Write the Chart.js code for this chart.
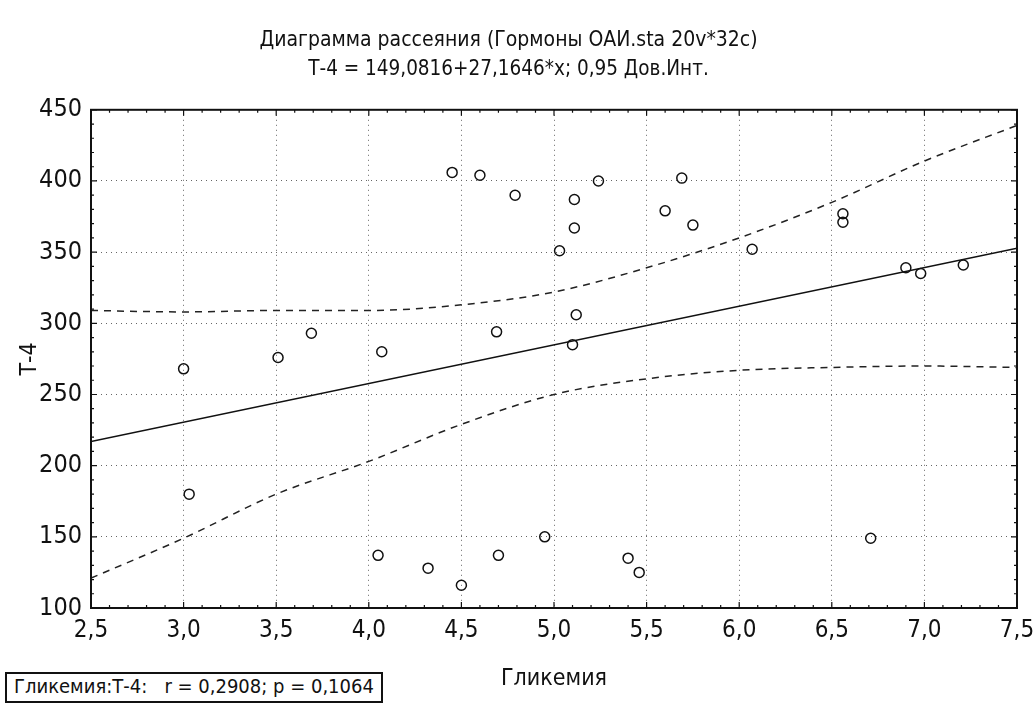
<!DOCTYPE html>
<html>
<head>
<meta charset="utf-8">
<script src="https://cdn.jsdelivr.net/npm/chart.js@4.4.1/dist/chart.umd.min.js"></script>
<style>
	body { margin: 0; background: white; }
	#wrap { position: relative; width: 1033px; height: 703px; }
	#stats {
		position: absolute; left: 5px; top: 672px;
		border: 2px solid #111; padding: 0 7px; height: 27px; line-height: 27px;
		font: 20px 'Liberation Sans Narrow', 'DejaVu Sans Condensed', sans-serif;
		color: #111; white-space: pre; background: white;
	}
</style>
</head>
<body>
<div id="wrap">
	<canvas id="myChart" width="1033" height="703"></canvas>
	<div id="stats">Гликемия:Т-4:   r = 0,2908; p = 0,1064</div>
</div>
<script>
const fontFamily = "'Liberation Sans Narrow', 'DejaVu Sans Condensed', sans-serif"
const inkColor = '#111'
const gridColor = '#666'

// Гликемия (x) / Т-4 (y), 32 случая
const glycemia = [3.00, 3.03, 3.51, 3.69, 4.07, 4.05, 4.32, 4.45, 4.50, 4.60, 4.70, 4.69, 4.79, 4.95, 5.03, 5.11,
	5.11, 5.12, 5.10, 5.24, 5.40, 5.46, 5.60, 5.69, 5.75, 6.07, 6.56, 6.56, 6.71, 6.90, 6.98, 7.21]
const t4 = [268, 180, 276, 293, 280, 137, 128, 406, 116, 404, 137, 294, 390, 150, 351, 367,
	387, 306, 285, 400, 135, 125, 379, 402, 369, 352, 377, 371, 149, 339, 335, 341]

// линия регрессии и 0,95 дов. интервал
const fitX = [2.5, 7.5]
const fitY = [217.0, 352.8]
const bandX = [2.5, 3.0, 3.5, 4.0, 4.5, 5.0, 5.5, 6.0, 6.5, 7.0, 7.5]
const upperY = [309, 308, 309, 309, 313, 322, 339, 360, 385, 414, 439]
const lowerY = [121, 149, 180, 203, 229, 250, 261, 267, 269, 270, 269]

const xTicks = [2.5, 3.0, 3.5, 4.0, 4.5, 5.0, 5.5, 6.0, 6.5, 7.0, 7.5]
const yTicks = [100, 150, 200, 250, 300, 350, 400, 450]

const toPoints = (xs, ys) => xs.map((x, i) => ({ x: x, y: ys[i] }))

/* рамка и мелкие штрихи внутри */
const framePlugin = {
	id: 'frame',
	afterDraw(chart) {
		const { ctx, chartArea: a, scales } = chart
		ctx.save()
		ctx.strokeStyle = inkColor
		ctx.lineWidth = 2
		ctx.strokeRect(a.left, a.top, a.right - a.left, a.bottom - a.top)
		ctx.lineWidth = 1.2
		for (let i = 25; i <= 75; i++) {
			const px = scales.x.getPixelForValue(i / 10)
			const len = i % 5 == 0 ? 6 : 3
			ctx.beginPath()
			ctx.moveTo(px, a.bottom); ctx.lineTo(px, a.bottom - len)
			ctx.moveTo(px, a.top); ctx.lineTo(px, a.top + len)
			ctx.stroke()
		}
		for (let v = 100; v <= 450; v += 10) {
			const py = scales.y.getPixelForValue(v)
			const len = v % 50 == 0 ? 6 : 3
			ctx.beginPath()
			ctx.moveTo(a.left, py); ctx.lineTo(a.left + len, py)
			ctx.moveTo(a.right, py); ctx.lineTo(a.right - len, py)
			ctx.stroke()
		}
		ctx.restore()
	}
}

const ctx = document.getElementById('myChart').getContext('2d')
const chart = new Chart(ctx, {
	type: 'scatter',
	data: {
		datasets: [{
			label: 'Т-4',
			data: toPoints(glycemia, t4),
			pointStyle: 'circle',
			pointRadius: 5,
			pointBorderWidth: 1.5,
			borderColor: inkColor,
			backgroundColor: 'rgba(0,0,0,0)',
			showLine: false
		}, {
			label: 'регрессия',
			data: toPoints(fitX, fitY),
			showLine: true,
			borderColor: inkColor,
			borderWidth: 1.5,
			pointRadius: 0
		}, {
			label: 'верх',
			data: toPoints(bandX, upperY),
			showLine: true,
			borderColor: '#222',
			borderWidth: 1.5,
			borderDash: [7, 6],
			cubicInterpolationMode: 'monotone',
			pointRadius: 0
		}, {
			label: 'низ',
			data: toPoints(bandX, lowerY),
			showLine: true,
			borderColor: '#222',
			borderWidth: 1.5,
			borderDash: [7, 6],
			cubicInterpolationMode: 'monotone',
			pointRadius: 0
		}]
	},
	options: {
		responsive: false,
		animation: false,
		layout: { padding: { left: 0, right: 16, top: 0, bottom: 0 } },
		scales: {
			x: {
				type: 'linear',
				min: 2.5,
				max: 7.5,
				afterBuildTicks: scale => { scale.ticks = xTicks.map(v => ({ value: v })) },
				afterFit: scale => {
					scale.height = 95
					scale.paddingLeft = 0
					scale.paddingRight = 0
				},
				ticks: {
					color: inkColor,
					padding: 8,
					maxRotation: 0,
					font: { family: fontFamily, size: 24 },
					callback: v => v.toFixed(1).replace('.', ',')
				},
				grid: { color: gridColor, lineWidth: 1, drawTicks: false },
				border: { display: false, dash: [1, 4] },
				title: {
					display: true,
					text: 'Гликемия',
					color: inkColor,
					padding: { top: 10, bottom: 10 },
					font: { family: fontFamily, size: 23 }
				}
			},
			y: {
				min: 100,
				max: 450,
				afterBuildTicks: scale => { scale.ticks = yTicks.map(v => ({ value: v })) },
				afterFit: scale => { scale.width = 91 },
				ticks: {
					color: inkColor,
					padding: 9,
					font: { family: fontFamily, size: 25 }
				},
				grid: { color: gridColor, lineWidth: 1, drawTicks: false },
				border: { display: false, dash: [1, 4] },
				title: {
					display: true,
					text: 'Т-4',
					color: inkColor,
					padding: { top: 16, bottom: 16 },
					font: { family: fontFamily, size: 23 }
				}
			}
		},
		plugins: {
			legend: { display: false },
			tooltip: { enabled: false },
			title: {
				display: true,
				text: 'Диаграмма рассеяния (Гормоны ОАИ.sta 20v*32c)',
				color: inkColor,
				padding: { top: 28, bottom: 2 },
				font: { family: fontFamily, size: 21, weight: 'normal' }
			},
			subtitle: {
				display: true,
				text: 'Т-4 = 149,0816+27,1646*x; 0,95 Дов.Инт.',
				color: inkColor,
				padding: { top: 2, bottom: 28 },
				font: { family: fontFamily, size: 20.5 }
			}
		}
	},
	plugins: [framePlugin]
})
</script>
</body>
</html>
